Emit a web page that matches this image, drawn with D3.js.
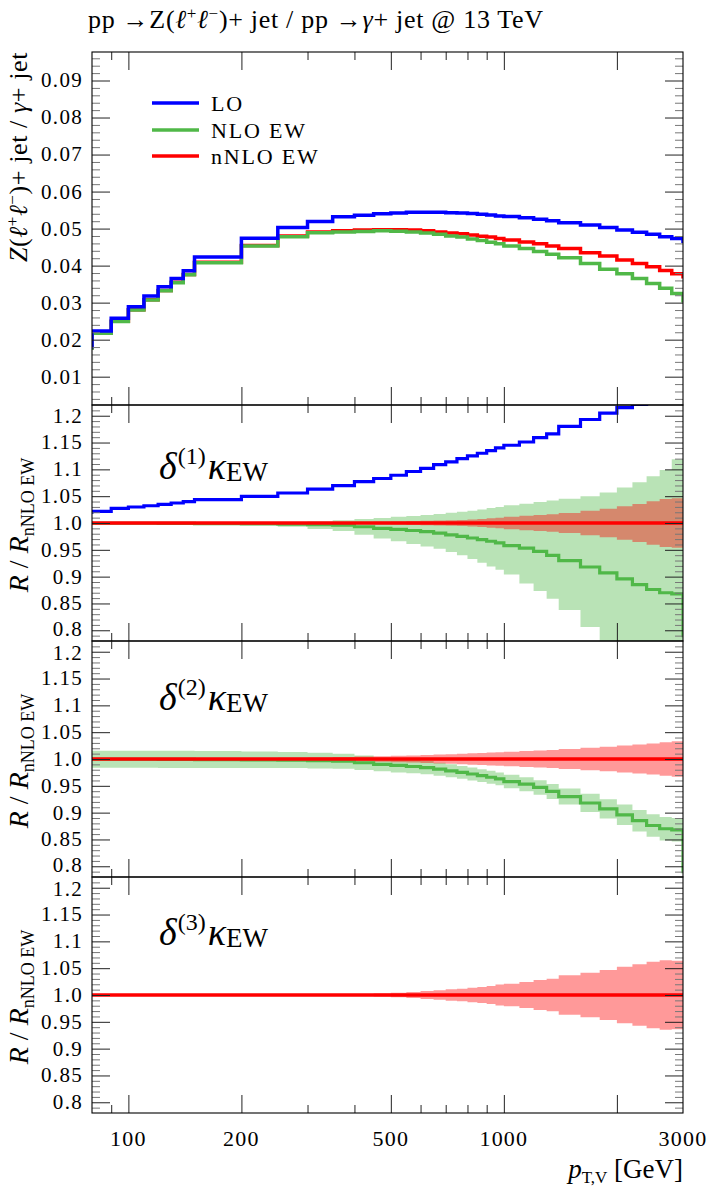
<!DOCTYPE html>
<html>
<head>
<meta charset="utf-8">
<script src="https://cdn.jsdelivr.net/npm/d3@7"></script>
<style>
  html, body { margin: 0; padding: 0; background: #fff; }
  svg { display: block; }
  text { font-family: "Liberation Serif", "DejaVu Serif", serif; fill: #000; }
</style>
</head>
<body>
<script>
// ---------------- DATA ----------------
// bin edges (GeV); first and last bins lie outside the visible range (only their edge is seen)
const binEdges = [70, 80, 90, 100, 110, 120, 130, 140, 150, 200, 250, 300, 350, 400, 450, 500, 550, 600, 650, 700,
  750, 800, 850, 900, 950, 1000, 1100, 1200, 1300, 1400, 1600, 1800, 2000, 2200, 2400, 2600, 2800, 3000, 3400];

// top panel: Z(ll)+jet / gamma+jet
const ratioLO = [0.0181, 0.02235, 0.02578, 0.0289, 0.0318, 0.0343, 0.0365, 0.0386, 0.0423, 0.0474, 0.0503, 0.0519, 0.0532,
  0.0536, 0.0540, 0.0542, 0.0544, 0.0544, 0.0544, 0.0543, 0.0542, 0.0541, 0.0539, 0.0537, 0.0534,
  0.0533, 0.0529, 0.0525, 0.0521, 0.0516, 0.0510, 0.0503, 0.0496, 0.0490, 0.0485, 0.0478, 0.0473, 0.0466];
const ratioNLO = [0.0177, 0.0217, 0.0249, 0.0280, 0.0307, 0.0332, 0.0354, 0.0375, 0.0408, 0.0453, 0.0478, 0.0489, 0.0491,
  0.0492, 0.0494, 0.0493, 0.0491, 0.0488, 0.0485, 0.0480, 0.0477, 0.0472, 0.0468, 0.0463, 0.0459,
  0.0453, 0.0446, 0.0438, 0.0431, 0.0421, 0.0406, 0.0390, 0.0378, 0.0365, 0.0352, 0.0339, 0.0325, 0.0305];
const ratioNNLO = [0.0178, 0.0218, 0.0250, 0.0281, 0.0308, 0.0333, 0.0355, 0.0376, 0.0409, 0.0454, 0.0480, 0.0491, 0.0494,
  0.0496, 0.0497, 0.0497, 0.0496, 0.0494, 0.0491, 0.0488, 0.0486, 0.0483, 0.0479, 0.0477, 0.0473,
  0.0469, 0.0464, 0.0459, 0.0453, 0.0446, 0.0435, 0.0426, 0.0415, 0.0406, 0.0397, 0.0387, 0.0378, 0.0370];

// ratio panels: R / R_nNLO EW
const relLO = [1.020, 1.0216, 1.0272, 1.0298, 1.0322, 1.0347, 1.0373, 1.0397, 1.0434, 1.0496, 1.0559, 1.0633, 1.0695,
  1.077, 1.083, 1.089, 1.096, 1.102, 1.109, 1.114, 1.120, 1.125, 1.130, 1.135, 1.140,
  1.145, 1.151, 1.159, 1.166, 1.180, 1.193, 1.205, 1.215, 1.221, 1.232, 1.242, 1.252, 1.260];
const relNLO = [0.9995, 0.9995, 0.9995, 0.9995, 0.9995, 0.9994, 0.9993, 0.9992, 0.999, 0.9985, 0.998, 0.997, 0.996,
  0.993, 0.990, 0.988, 0.986, 0.984, 0.981, 0.978, 0.975, 0.972, 0.969, 0.966, 0.963,
  0.958, 0.953, 0.947, 0.9396, 0.930, 0.918, 0.907, 0.896, 0.885, 0.876, 0.870, 0.868, 0.790];
const relNNLO = [1, 1, 1, 1, 1, 1, 1, 1, 1, 1, 1, 1, 1, 1, 1, 1, 1, 1, 1, 1, 1, 1, 1, 1, 1, 1, 1, 1, 1, 1, 1, 1, 1, 1, 1, 1, 1, 1];

// delta(1) kappa_EW: NLO band (upper / lower) and nNLO band half-width
const d1NLOUp = [1.0003, 1.0003, 1.0003, 1.0003, 1.0003, 1.0003, 1.0003, 1.0003, 1.0005, 1.001, 1.002, 1.003, 1.005,
  1.0075, 1.0095, 1.0115, 1.013, 1.015, 1.017, 1.019, 1.021, 1.023, 1.025, 1.028, 1.030,
  1.033, 1.036, 1.039, 1.042, 1.045, 1.050, 1.057, 1.066, 1.076, 1.087, 1.099, 1.119, 1.119];
const d1NLODown = [0.9995, 0.9995, 0.9995, 0.9995, 0.9995, 0.9995, 0.9995, 0.9995, 0.999, 0.997, 0.993, 0.989, 0.985,
  0.978, 0.971, 0.966, 0.961, 0.956, 0.952, 0.946, 0.940, 0.933, 0.926, 0.919, 0.913,
  0.904, 0.887, 0.873, 0.859, 0.838, 0.806, 0.77, 0.74, 0.72, 0.70, 0.68, 0.66, 0.66];
const d1NNLOHalf = [0.0003, 0.0003, 0.0003, 0.0003, 0.0003, 0.0003, 0.0003, 0.0003, 0.0005, 0.0008, 0.001, 0.0013, 0.0016,
  0.002, 0.0025, 0.003, 0.0035, 0.004, 0.0045, 0.005, 0.0056, 0.0065, 0.0075, 0.0088, 0.010,
  0.0115, 0.0135, 0.015, 0.0165, 0.0186, 0.023, 0.0267, 0.031, 0.0354, 0.0404, 0.0447, 0.046, 0.046];

// delta(2) kappa_EW: band half-widths around NLO and nNLO
const d2NLOHalf = [0.016, 0.016, 0.016, 0.016, 0.016, 0.016, 0.016, 0.016, 0.016, 0.0155, 0.015, 0.0145, 0.014,
  0.0135, 0.013, 0.013, 0.0125, 0.0125, 0.012, 0.012, 0.012, 0.012, 0.012, 0.012, 0.012,
  0.0125, 0.013, 0.0135, 0.014, 0.015, 0.017, 0.018, 0.019, 0.020, 0.021, 0.022, 0.022, 0.022];
const d2NNLOHalf = [0.001, 0.001, 0.001, 0.001, 0.001, 0.001, 0.001, 0.001, 0.0015, 0.002, 0.0025, 0.003, 0.0035,
  0.0045, 0.0052, 0.006, 0.0067, 0.0075, 0.0085, 0.009, 0.0097, 0.0105, 0.011, 0.012, 0.0127,
  0.0137, 0.015, 0.016, 0.017, 0.0186, 0.021, 0.023, 0.025, 0.027, 0.029, 0.031, 0.033, 0.033];

// delta(3) kappa_EW: nNLO band half-width
const d3NNLOHalf = [0.0005, 0.0005, 0.0005, 0.0005, 0.0005, 0.0005, 0.0005, 0.0005, 0.0005, 0.0005, 0.0005, 0.0008, 0.0012,
  0.002, 0.003, 0.0043, 0.0056, 0.0075, 0.0087, 0.0106, 0.0118, 0.0137, 0.015, 0.0168, 0.0195,
  0.021, 0.0242, 0.028, 0.0304, 0.0366, 0.0416, 0.0466, 0.0528, 0.0571, 0.062, 0.065, 0.064, 0.064];

// axis ticks
const xMajorTicks = [100, 200, 500, 1000, 2000];
const xMinorTicks = [90, 300, 400, 600, 700, 800, 900];
const xTickLabels = ["100", "200", "500", "1000", "3000"];
const topTickLabels = ["0.01", "0.02", "0.03", "0.04", "0.05", "0.06", "0.07", "0.08", "0.09"];
const relTickLabels = ["0.8", "0.85", "0.9", "0.95", "1.0", "1.05", "1.1", "1.15", "1.2"];
const legendLabels = ["LO", "NLO EW", "nNLO EW"];
const deltaOrders = ["1", "2", "3"];

// ---------------- LAYOUT ----------------
const W = 712, H = 1187;
const L = 92, R = 683;
const panels = [
  { top: 52, bottom: 405 },
  { top: 405, bottom: 641 },
  { top: 641, bottom: 877 },
  { top: 877, bottom: 1113 }
];
const cBlue = "#0000ff", cGreen = "#50b848", cRed = "#ff0000";
const fGreen = "rgba(80,184,72,0.4)", fRed = "rgba(255,0,0,0.4)";

const svg = d3.select("body").append("svg").attr("width", W).attr("height", H);
const x = d3.scaleLog().domain([80, 3000]).range([L, R]);

const yTop = d3.scaleLinear().domain([0.00235, 0.0977]).range([panels[0].bottom, panels[0].top]);
const yRel = panels.slice(1).map(p => d3.scaleLinear().domain([0.78, 1.22]).range([p.bottom, p.top]));

// clip paths
const defs = svg.append("defs");
panels.forEach((p, i) => {
  defs.append("clipPath").attr("id", "clip" + i)
    .append("rect").attr("x", L).attr("y", p.top).attr("width", R - L).attr("height", p.bottom - p.top);
});

function stepPts(vals) {
  const pts = vals.map((v, i) => [binEdges[i], v]);
  pts.push([binEdges[binEdges.length - 1], vals[vals.length - 1]]);
  return pts;
}
function drawLine(g, vals, y, color, w) {
  const line = d3.line().x(d => x(d[0])).y(d => y(d[1])).curve(d3.curveStepAfter);
  g.append("path").attr("d", line(stepPts(vals))).attr("fill", "none")
    .attr("stroke", color).attr("stroke-width", w).attr("stroke-linejoin", "miter");
}
function drawBand(g, lo, hi, y, fill) {
  const pts = lo.map((v, i) => [binEdges[i], v, hi[i]]);
  pts.push([binEdges[binEdges.length - 1], lo[lo.length - 1], hi[hi.length - 1]]);
  const area = d3.area().x(d => x(d[0])).y0(d => y(d[1])).y1(d => y(d[2])).curve(d3.curveStepAfter);
  g.append("path").attr("d", area(pts)).attr("fill", fill).attr("stroke", "none");
}

// rich text helper
function rich(t, segs, size) {
  let cur = 0;
  segs.forEach(s => {
    const fs = s.size || size;
    const shift = s.sup ? -s.sup : (s.sub ? s.sub : 0);
    const ts = t.append("tspan").text(s.t).attr("font-size", fs);
    if (shift !== cur) { ts.attr("dy", shift - cur); cur = shift; }
    if (s.it) ts.attr("font-style", "italic");
    if (s.dx) ts.attr("dx", s.dx);
  });
  return t;
}

// ---------------- TOP PANEL ----------------
const g0 = svg.append("g").attr("clip-path", "url(#clip0)");
drawLine(g0, ratioNNLO, yTop, cRed, 3.5);
drawLine(g0, ratioNLO, yTop, cGreen, 3.5);
drawLine(g0, ratioLO, yTop, cBlue, 3.5);

// ---------------- RATIO PANELS ----------------
const relSeries = [
  { nloLo: d1NLODown, nloHi: d1NLOUp, nnloHalf: d1NNLOHalf, showLO: true, showNLO: true },
  { nloLo: relNLO.map((v, i) => v - d2NLOHalf[i]), nloHi: relNLO.map((v, i) => v + d2NLOHalf[i]), nnloHalf: d2NNLOHalf, showLO: false, showNLO: true },
  { nloLo: null, nloHi: null, nnloHalf: d3NNLOHalf, showLO: false, showNLO: false }
];
relSeries.forEach((s, k) => {
  const y = yRel[k];
  const g = svg.append("g").attr("clip-path", `url(#clip${k + 1})`);
  if (s.nloLo) drawBand(g, s.nloLo, s.nloHi, y, fGreen);
  drawBand(g, relNNLO.map((v, i) => v - s.nnloHalf[i]), relNNLO.map((v, i) => v + s.nnloHalf[i]), y, fRed);
  if (s.showNLO) drawLine(g, relNLO, y, cGreen, 3.2);
  if (s.showLO) drawLine(g, relLO, y, cBlue, 3.2);
  drawLine(g, relNNLO, y, cRed, 3.4);
});

// ---------------- AXES / TICKS ----------------
const MAJ = 18, MIN = 8;
panels.forEach((p, i) => {
  const y = i === 0 ? yTop : yRel[i - 1];
  const ax = svg.append("g");
  const xt = (vals, len, col) => {
    ax.append("g").attr("transform", `translate(0,${p.bottom})`)
      .call(d3.axisBottom(x).tickValues(vals).tickSize(-len).tickFormat(""))
      .call(g => { g.select(".domain").remove(); g.selectAll("line").attr("stroke", col); });
    ax.append("g").attr("transform", `translate(0,${p.top})`)
      .call(d3.axisTop(x).tickValues(vals).tickSize(-len).tickFormat(""))
      .call(g => { g.select(".domain").remove(); g.selectAll("line").attr("stroke", col); });
  };
  xt(xMajorTicks, MAJ, "#222");
  xt(xMinorTicks, MIN, "#222");
  let majors, minors, labels;
  if (i === 0) {
    labels = topTickLabels; majors = labels.map(Number);
    minors = d3.range(1, 49).map(k => k * 0.002).filter((v, k) => (k + 1) % 5 !== 0);
  } else {
    labels = relTickLabels; majors = labels.map(Number);
    minors = d3.range(78, 123).filter(k => k % 5 !== 0).map(k => k / 100);
  }
  const yt = (vals, len, col) => {
    ax.append("g").attr("transform", `translate(${L},0)`)
      .call(d3.axisLeft(y).tickValues(vals).tickSize(-len).tickFormat(""))
      .call(g => { g.select(".domain").remove(); g.selectAll("line").attr("stroke", col); });
    ax.append("g").attr("transform", `translate(${R},0)`)
      .call(d3.axisRight(y).tickValues(vals).tickSize(-len).tickFormat(""))
      .call(g => { g.select(".domain").remove(); g.selectAll("line").attr("stroke", col); });
  };
  yt(majors, MAJ, "#222");
  yt(minors.filter(v => y(v) > p.top + 0.5 && y(v) < p.bottom - 0.5), MIN, "#777");
  majors.forEach((v, k) => {
    let nudge = 0;
    if (i > 0 && k === 0 && i < 3) nudge = -1.5;
    if (i > 1 && k === majors.length - 1) nudge = 1.5;
    svg.append("text").attr("x", L - 9).attr("y", y(v) + nudge).attr("dy", "0.33em")
      .attr("text-anchor", "end").attr("font-size", 21).attr("letter-spacing", 1.3).text(labels[k]);
  });
  svg.append("rect").attr("x", L).attr("y", p.top).attr("width", R - L).attr("height", p.bottom - p.top)
    .attr("fill", "none").attr("stroke", "#000").attr("stroke-width", 1.1);
});

// x tick labels
const xLabVals = xTickLabels.map(Number);
xLabVals.forEach((v, k) => {
  svg.append("text").attr("x", x(v)).attr("y", 1146).attr("text-anchor", "middle")
    .attr("font-size", 22).attr("letter-spacing", 1.2).text(xTickLabels[k]);
});

// x axis title
rich(svg.append("text").attr("x", R).attr("y", 1178).attr("text-anchor", "end"), [
  { t: "p", it: true },
  { t: "T,V", sub: 5, size: 17 },
  { t: " [GeV]" }
], 27);

// title
rich(svg.append("text").attr("x", 88).attr("y", 28).attr("letter-spacing", 0.7), [
  { t: "pp →Z(" },
  { t: "ℓ", it: true },
  { t: "+", sup: 9, size: 17 },
  { t: "ℓ", it: true },
  { t: "−", sup: 9, size: 17 },
  { t: ")+ jet / pp →" },
  { t: "γ", it: true },
  { t: "+ jet @ 13 TeV" }
], 26);

// y title top (aligned with top of frame)
rich(svg.append("text").attr("transform", "translate(27,52) rotate(-90)").attr("text-anchor", "end").attr("letter-spacing", 0.6), [
  { t: "Z", it: true },
  { t: "(" },
  { t: "ℓ", it: true },
  { t: "+", sup: 9, size: 17 },
  { t: "ℓ", it: true },
  { t: "−", sup: 9, size: 17 },
  { t: ")+ jet / " },
  { t: "γ", it: true },
  { t: "+ jet" }
], 26);

// y titles ratio panels
panels.slice(1).forEach(p => {
  const cy = (p.top + p.bottom) / 2 + 2;
  rich(svg.append("text").attr("transform", `translate(28,${cy}) rotate(-90)`).attr("text-anchor", "middle"), [
    { t: "R", it: true },
    { t: " / " },
    { t: "R", it: true },
    { t: "nNLO EW", sub: 6, size: 18 }
  ], 28);
});

// delta labels
const deltaBase = [479, 710, 945];
deltaOrders.forEach((o, k) => {
  rich(svg.append("text").attr("x", 159).attr("y", deltaBase[k]), [
    { t: "δ", it: true },
    { t: "(" + o + ")", sup: 15, size: 24, dx: 1 },
    { t: "κ", it: true, dx: 2 },
    { t: "EW", sub: 2, size: 27 }
  ], 38);
});

// legend
const legColors = [cBlue, cGreen, cRed];
const legY = [103, 130, 156];
legendLabels.forEach((lab, k) => {
  svg.append("line").attr("x1", 152).attr("x2", 199).attr("y1", legY[k]).attr("y2", legY[k])
    .attr("stroke", legColors[k]).attr("stroke-width", 3.5);
  svg.append("text").attr("x", 211).attr("y", legY[k]).attr("dy", "0.35em").attr("font-size", 22)
    .attr("letter-spacing", 1.8).text(lab);
});
</script>
</body>
</html>
